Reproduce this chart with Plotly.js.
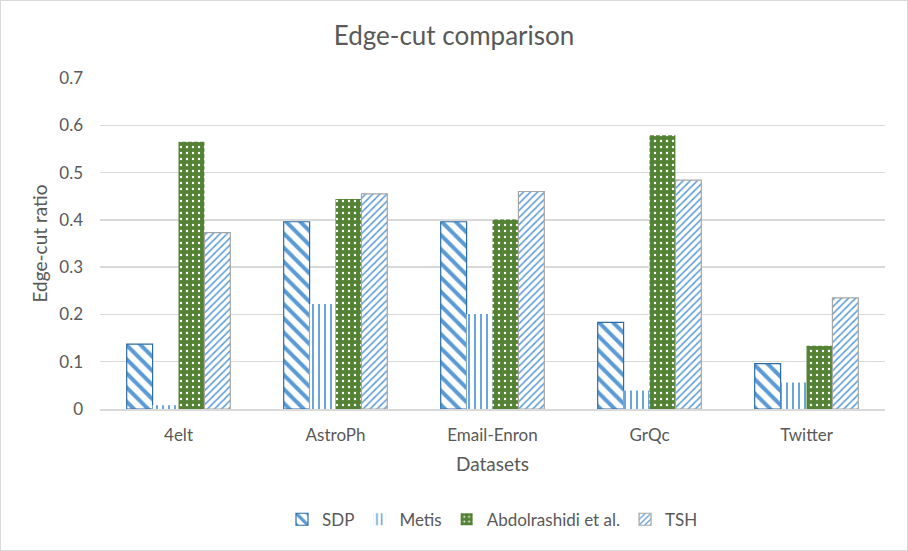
<!DOCTYPE html>
<html>
<head>
<meta charset="utf-8">
<script src="https://cdn.plot.ly/plotly-3.0.1.min.js"></script>
<style>
html,body{margin:0;padding:0;background:#fff;}
#chart{width:906px;height:549px;border:1px solid #d9d9d9;}
</style>
</head>
<body>
<div id="chart"></div>
<script>
const categories = ["4elt", "AstroPh", "Email-Enron", "GrQc", "Twitter"];
const sdp = [0.137, 0.396, 0.396, 0.183, 0.096];
const metis = [0.008, 0.222, 0.201, 0.039, 0.056];
const abdolrashidi = [0.565, 0.444, 0.401, 0.579, 0.134];
const tsh = [0.373, 0.455, 0.460, 0.484, 0.235];
const yTicks = [0, 0.1, 0.2, 0.3, 0.4, 0.5, 0.6, 0.7];
const yTickText = ["0", "0.1", "0.2", "0.3", "0.4", "0.5", "0.6", "0.7"];

const font = "Lato, 'Open Sans', sans-serif";
const txt = "#595959";

const traces = [
  {type:"bar", name:"SDP", x:categories, y:sdp,
   marker:{color:"#5B9BD5", line:{color:"#2E6DA4", width:1.2},
     pattern:{shape:"\\", fgcolor:"#5B9BD5", bgcolor:"#ffffff", size:10, solidity:0.4, fillmode:"replace"}}},
  {type:"bar", name:"Metis", x:categories, y:metis,
   marker:{color:"#5B9BD5", line:{color:"rgba(0,0,0,0)", width:0},
     pattern:{shape:"|", fgcolor:"#5B9BD5", bgcolor:"#ffffff", size:6, solidity:0.3, fillmode:"replace"}}},
  {type:"bar", name:"Abdolrashidi et al.", x:categories, y:abdolrashidi,
   marker:{color:"#548235", line:{color:"#548235", width:0},
     pattern:{shape:".", fgcolor:"#ffffff", bgcolor:"#548235", size:6, solidity:0.12, fillmode:"replace"}}},
  {type:"bar", name:"TSH", x:categories, y:tsh,
   marker:{color:"#5B9BD5", line:{color:"#a6a6a6", width:1.2},
     pattern:{shape:"/", fgcolor:"#5B9BD5", bgcolor:"#ffffff", size:5, solidity:0.3, fillmode:"replace"}}}
];

const layout = {
  width:906, height:549,
  margin:{l:99, r:22, t:77, b:141},
  paper_bgcolor:"#ffffff", plot_bgcolor:"#ffffff",
  barmode:"group", bargap:0.34, bargroupgap:0,
  font:{family:font, color:txt, size:17},
  title:{text:"Edge-cut comparison", font:{family:font, size:26, color:txt}, x:0.5, xanchor:"center", y:0.936, yanchor:"middle"},
  xaxis:{title:{text:"Datasets", font:{size:19, color:txt}, standoff:14},
    tickfont:{size:17, color:txt}, ticklabelstandoff:10, showgrid:false, showline:true, linecolor:"#d9d9d9", linewidth:1.5, ticks:"", zeroline:false},
  yaxis:{title:{text:"Edge-cut ratio", font:{size:19, color:txt}, standoff:6},
    range:[0,0.7], tickvals:yTicks, ticktext:yTickText, tickfont:{size:17, color:txt}, ticklabelstandoff:16,
    gridcolor:"#d9d9d9", gridwidth:1.5, zeroline:false, showline:false, ticks:"", ticklen:0},
  legend:{orientation:"h", x:0.5, xanchor:"center", y:-0.28, yanchor:"top", font:{size:17, color:txt}, traceorder:"normal"},
  showlegend:true
};

Plotly.newPlot("chart", traces, layout, {displayModeBar:false, staticPlot:true});
</script>
</body>
</html>
